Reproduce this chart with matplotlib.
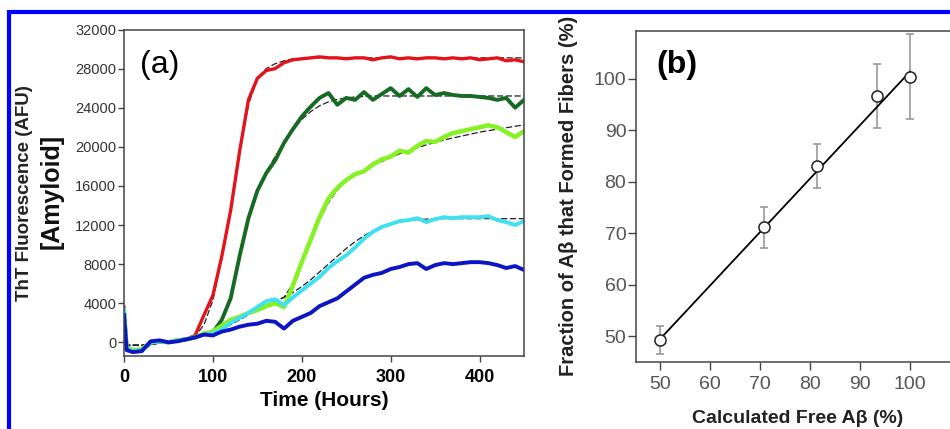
import matplotlib
matplotlib.use("Agg")
import matplotlib.pyplot as plt
from matplotlib.patches import Rectangle

plt.rcParams['font.family'] = ['Liberation Sans', 'DejaVu Sans']

# ---- panel (a): ThT kinetics ----
hours = [0, 3, 10, 20, 30, 40, 50, 60, 70, 80, 90, 100, 110, 120, 130, 140, 150, 160,
         170, 180, 190, 200, 210, 220, 230, 240, 250, 260, 270, 280, 290, 300, 310,
         320, 330, 340, 350, 360, 370, 380, 390, 400, 410, 420, 430, 440, 450]

red = [3600, -500, -800, -700, 0, 100, 0, 200, 300, 700, 2800, 4800, 8800, 13500,
       19500, 24800, 27000, 27800, 28000, 28600, 28900, 29000, 29100, 29200, 29100,
       29100, 29000, 29100, 29100, 28900, 29100, 29200, 29000, 29100, 29000, 29100,
       29100, 29000, 29100, 29000, 29100, 28900, 29000, 29100, 28800, 28900, 28700]
dark_green = [3000, -500, -900, -800, -100, 100, 0, 200, 300, 500, 800, 1000, 2300,
              4500, 8800, 12700, 15500, 17300, 18600, 20400, 21800, 23100, 24100, 25000,
              25500, 24300, 25000, 24800, 25600, 24800, 25400, 26000, 25200, 25900,
              25100, 26000, 25300, 25500, 25300, 25200, 25200, 25100, 25000, 24800,
              25000, 24000, 24800]
lime = [3200, -600, -800, -700, 0, 100, 0, 200, 300, 500, 900, 1100, 1700, 2300, 2600,
        3000, 3300, 3700, 4000, 3600, 5800, 8200, 10500, 12800, 14700, 15800, 16600,
        17200, 17500, 18200, 18700, 19000, 19600, 19400, 20100, 20600, 20500, 21000,
        21400, 21600, 21800, 22000, 22200, 22000, 21500, 21000, 21600]
cyan = [3400, -700, -900, -800, 0, 100, 0, 200, 300, 500, 800, 900, 1300, 2000, 2500,
        3000, 3600, 4200, 4400, 3800, 4600, 5300, 6000, 6700, 7600, 8300, 8900, 9700,
        10600, 11300, 11800, 12100, 12400, 12500, 12700, 12300, 12600, 12800, 12700,
        12800, 12800, 12800, 12900, 12500, 12300, 12000, 12400]
blue = [2800, -800, -1000, -900, 100, 200, 0, 100, 300, 500, 800, 700, 1100, 1300,
        1600, 1800, 1900, 2200, 2100, 1400, 2200, 2600, 3000, 3700, 4100, 4500, 5200,
        5900, 6600, 6900, 7100, 7500, 7700, 8000, 8100, 7500, 7900, 8100, 8000, 8100,
        8200, 8200, 8100, 7900, 7600, 7800, 7400]

# fitted curves (black dashed)
red_fit = [-300, -300, -300, -300, -200, -100, 0, 100, 200, 600, 1800, 4300, 8600,
           13700, 19500, 24300, 27000, 28000, 28500, 28800, 29000, 29050, 29080, 29100,
           29100, 29100, 29100, 29100, 29100, 29100, 29100, 29100, 29100, 29100, 29100,
           29100, 29100, 29100, 29100, 29100, 29100, 29100, 29100, 29100, 29100, 29100,
           29100]
dark_green_fit = [-300, -300, -300, -300, -200, -100, 0, 100, 200, 400, 700, 1100,
                  2400, 4600, 8700, 12700, 15500, 17400, 19000, 20400, 21700, 22800,
                  23600, 24200, 24600, 24850, 25000, 25100, 25150, 25200, 25200, 25200,
                  25200, 25200, 25200, 25200, 25200, 25200, 25200, 25200, 25200, 25200,
                  25200, 25200, 25200, 25200, 25200]
lime_fit = [-300, -300, -300, -300, -200, -100, 0, 100, 200, 400, 700, 1000, 1500,
            2000, 2500, 3000, 3400, 3800, 4200, 4600, 6000, 8200, 10400, 12500, 14300,
            15600, 16500, 17100, 17600, 18100, 18500, 18900, 19300, 19600, 19900, 20200,
            20450, 20700, 20900, 21100, 21300, 21500, 21650, 21800, 21950, 22100, 22250]
cyan_fit = [-300, -300, -300, -300, -200, -100, 0, 100, 200, 400, 700, 900, 1300, 1800,
            2300, 2800, 3300, 3800, 4200, 4600, 5100, 5700, 6400, 7200, 8000, 8800, 9600,
            10300, 10900, 11400, 11800, 12100, 12300, 12450, 12550, 12600, 12650, 12650,
            12650, 12650, 12650, 12650, 12650, 12650, 12650, 12650, 12650]

# ---- panel (b): fraction that formed fibres ----
free_ab = [50.0, 70.7, 81.3, 93.3, 100.0]
fiber_frac = [49.2, 71.1, 83.0, 96.6, 100.4]
fiber_err = [2.7, 4.0, 4.3, 6.2, 8.3]
fit_x = [50, 100]
fit_y = [49.4, 101.4]

W, H = 950, 429


def style_spines(ax, color='#444444'):
    for s in ax.spines.values():
        s.set_color(color)
        s.set_linewidth(1.1)


def draw_kinetics(fig):
    ax = fig.add_axes([124 / W, 1 - 356 / H, 400 / W, 326.5 / H])
    # fits sit underneath, only the bits off the data show through
    for vals in [red_fit, dark_green_fit, lime_fit, cyan_fit]:
        ax.plot(hours, vals, color='#222222', lw=0.9, dashes=(5, 2), zorder=1)
    traces = [(red, '#e3121b', 2.4), (dark_green, '#176a24', 2.8), (lime, '#86f224', 3.2),
              (cyan, '#3fe0f2', 2.8), (blue, '#0c14c4', 2.8)]
    for vals, col, lw in traces:
        ax.plot(hours, vals, color=col, lw=lw, solid_joinstyle='round', zorder=2)

    ax.set_xlim(0, 450)
    ax.set_ylim(-1400, 32000)
    ax.set_xticks(range(0, 401, 100))
    ax.set_yticks(range(0, 32001, 4000))
    ax.tick_params(axis='y', direction='out', length=4, width=1, pad=1.5,
                   labelsize=10.5, labelcolor='#333333', color='#444444')
    ax.tick_params(axis='x', direction='out', length=4, width=1, pad=5,
                   labelsize=13, color='#444444')
    for lab in ax.get_xticklabels():
        lab.set_fontweight('bold')
    style_spines(ax)

    ax.set_xlabel('Time (Hours)', fontsize=15, fontweight='bold', labelpad=4)
    fig.text(25 / W, 1 - 193 / H, 'ThT Fluorescence (AFU)', rotation=90,
             fontsize=13.5, fontweight='bold', color='#222222', ha='center', va='center')
    fig.text(52 / W, 1 - 191 / H, '[Amyloid]', rotation=90,
             fontsize=18, fontweight='bold', color='#111111', ha='center', va='center')
    fig.text(160 / W, 1 - 65 / H, '(a)', fontsize=23, ha='center', va='center')


def draw_fraction(fig):
    ax = fig.add_axes([636 / W, 1 - 362 / H, 324 / W, 331.5 / H])
    ax.errorbar(free_ab, fiber_frac, yerr=fiber_err, fmt='none', ecolor='#9a9a9a',
                elinewidth=1.2, capsize=3, capthick=1.2)
    ax.plot(fit_x, fit_y, color='black', lw=1.3)
    ax.plot(free_ab, fiber_frac, 'o', ms=8, mfc='white', mec='#222222', mew=1.1)

    ax.set_xlim(45.2, 110)
    ax.set_ylim(44.95, 109.4)
    ax.set_xticks(range(50, 101, 10))
    ax.set_yticks(range(50, 101, 10))
    ax.spines['right'].set_visible(False)
    ax.tick_params(direction='out', length=6, width=1, labelsize=14,
                   labelcolor='#555555', color='#444444')
    ax.tick_params(axis='y', pad=1)
    ax.tick_params(axis='x', pad=4)
    style_spines(ax)

    ax.set_xlabel('Calculated Free A\u03b2 (%)', fontsize=14, fontweight='bold',
                  color='#222222', labelpad=12)
    fig.text(568 / W, 1 - 196 / H, 'Fraction of A\u03b2 that Formed Fibers (%)',
             rotation=90, fontsize=14.5, fontweight='bold', color='#222222',
             ha='center', va='center')
    fig.text(677 / W, 1 - 65 / H, '(b)', fontsize=23, fontweight='bold',
             ha='center', va='center')


if __name__ == "__main__":
    fig = plt.figure(figsize=(9.5, 4.29), dpi=100)
    fig.patches.append(Rectangle((9 / W, -0.1), 1.2, 1.1 - 12 / H, transform=fig.transFigure,
                                 fill=False, edgecolor='#0000ff', lw=3, clip_on=False))
    draw_kinetics(fig)
    draw_fraction(fig)
    fig.savefig('out.png', dpi=100)
